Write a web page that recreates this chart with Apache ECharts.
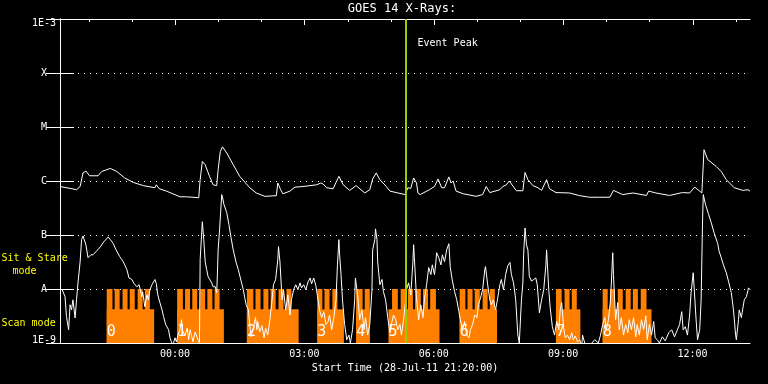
<!DOCTYPE html>
<html><head><meta charset="utf-8">
<script src="https://cdn.jsdelivr.net/npm/echarts@6/dist/echarts.min.js"></script>
<style>html,body{margin:0;padding:0;background:#000}#c{width:768px;height:384px}</style>
</head><body><div id="c"></div>
<script>
// ---- data (time in minutes after start 28-Jul-11 21:20:00) ----
const START_MIN = 21 * 60 + 20;
const X_MAX = 960;
const yTickLabels = ['1E-9', 'A', 'B', 'C', 'M', 'X', '1E-3'];
const xLabelTimes = [160, 340, 520, 700, 880];
const hourTicks = [40, 100, 160, 220, 280, 340, 400, 460, 520, 580, 640, 700, 760, 820, 880, 940];
const majorTicks = [160, 340, 520, 700, 880];
const eventPeak = 481;

// GOES 14 long channel (1-8 A), W/m^2
const longFlux = [[0,7.9e-7],[14,7.3e-7],[23,6.9e-7],[28,7.9e-7],[32,1.41e-6],[36,1.53e-6],[41,1.25e-6],[53,1.25e-6],[58,1.5e-6],[70,1.71e-6],[79,1.5e-6],[90,1.14e-6],[102,9.4e-7],[116,8.2e-7],[132,7.5e-7],[134,8.5e-7],[138,7.2e-7],[148,6.5e-7],[167,5.1e-7],[176,5.1e-7],[193,4.9e-7],[195,1.06e-6],[198,2.3e-6],[202,2.0e-6],[208,1.22e-6],[213,8.5e-7],[218,8.2e-7],[220,1.62e-6],[223,3.5e-6],[226,4.3e-6],[232,3.3e-6],[241,2.0e-6],[250,1.22e-6],[264,7.5e-7],[273,6.0e-7],[285,5.2e-7],[301,5.35e-7],[303,9.2e-7],[307,6.9e-7],[310,5.8e-7],[320,6.5e-7],[327,7.7e-7],[338,7.9e-7],[357,8.5e-7],[363,9.2e-7],[366,8.8e-7],[371,7.5e-7],[380,7.2e-7],[388,1.22e-6],[394,8.5e-7],[403,6.7e-7],[412,8.2e-7],[424,6.0e-7],[431,6.9e-7],[435,1.09e-6],[440,1.41e-6],[445,1.06e-6],[454,7.9e-7],[459,6.5e-7],[480,5.6e-7],[484,7.5e-7],[488,7.3e-7],[492,1.14e-6],[496,9.2e-7],[498,6.0e-7],[501,5.6e-7],[514,6.9e-7],[521,7.9e-7],[526,1.09e-6],[531,7.5e-7],[535,7.5e-7],[541,1.19e-6],[544,9.2e-7],[547,1.0e-6],[551,6.5e-7],[561,5.8e-7],[579,5.2e-7],[588,5.6e-7],[593,7.9e-7],[598,6.1e-7],[612,6.9e-7],[616,7.9e-7],[621,8.5e-7],[625,1.0e-6],[635,6.6e-7],[644,6.6e-7],[647,1.44e-6],[651,1.06e-6],[658,8.2e-7],[665,7.5e-7],[670,6.7e-7],[677,1.06e-6],[681,7.2e-7],[690,6.1e-7],[709,6.0e-7],[723,5.35e-7],[737,5.0e-7],[751,5.0e-7],[765,5.0e-7],[770,6.7e-7],[783,5.6e-7],[797,6.0e-7],[816,5.4e-7],[819,6.5e-7],[829,6.0e-7],[848,5.4e-7],[866,6.1e-7],[876,6.0e-7],[883,7.7e-7],[890,6.5e-7],[893,6.0e-7],[896,3.8e-6],[901,2.5e-6],[913,1.86e-6],[920,1.5e-6],[927,1.06e-6],[938,7.5e-7],[950,6.7e-7],[957,6.9e-7],[960,6.5e-7]];

// GOES 14 short channel (0.5-4 A), W/m^2
const shortFlux = [[0,1.0e-8],[3,9.7e-9],[7,7.2e-9],[9,3.1e-9],[12,1.76e-9],[14,5.1e-9],[16,4.1e-9],[18,6.3e-9],[21,2.9e-9],[23,6.3e-9],[25,1.3e-8],[28,3.2e-8],[30,8.2e-8],[32,9.6e-8],[34,1.0e-7],[36,6.6e-8],[39,3.8e-8],[41,3.5e-8],[43,4.3e-8],[46,4.3e-8],[50,4.9e-8],[56,6.0e-8],[61,7.5e-8],[67,9.2e-8],[70,8.2e-8],[74,7.0e-8],[78,5.3e-8],[83,4.0e-8],[88,3.2e-8],[93,2.3e-8],[96,1.6e-8],[100,1.5e-8],[103,1.26e-8],[107,1.1e-8],[110,1.2e-8],[114,7.2e-9],[115,8.9e-9],[118,4.7e-9],[121,7.8e-9],[123,6.3e-9],[125,9.7e-9],[128,1.2e-8],[132,1.5e-8],[134,1.26e-8],[136,7.8e-9],[139,5.6e-9],[142,4.1e-9],[144,3.1e-9],[147,2.2e-9],[151,1.76e-9],[153,1.25e-9],[155,1.05e-9],[157,9e-10],[160,1.25e-9],[162,1.05e-9],[164,1.4e-9],[167,1.76e-9],[169,2.7e-9],[171,1.6e-9],[174,1.4e-9],[177,1.9e-9],[179,1.15e-9],[181,1.76e-9],[183,1.37e-9],[185,1.05e-9],[188,1.6e-9],[190,1.55e-9],[192,1.15e-9],[194,1.0e-9],[195,3.5e-8],[198,1.76e-7],[200,8.2e-8],[202,3.2e-8],[204,2.3e-8],[206,1.7e-8],[208,1.7e-8],[211,1.3e-8],[213,1.1e-8],[216,1.1e-8],[218,8.5e-9],[219,1.9e-8],[220,5.3e-8],[222,1.25e-7],[225,5.6e-7],[226,5.1e-7],[228,3.7e-7],[232,2.6e-7],[235,1.56e-7],[238,8.9e-8],[241,5.3e-8],[245,3.1e-8],[248,2.3e-8],[252,1.4e-8],[255,9.7e-9],[257,6.9e-9],[259,5.1e-9],[262,4.1e-9],[264,2.2e-9],[266,1.3e-9],
[267,1.3e-9],[270,2.2e-9],[272,2.95e-9],[274,1.76e-9],[275,2.5e-9],[278,1.6e-9],[281,2.1e-9],[284,1.25e-9],[286,1.9e-9],[289,1.4e-9],[292,2.7e-9],[295,6.3e-9],[297,1.2e-8],[300,1.5e-8],[303,3.5e-8],[304,6.1e-8],[306,3.2e-8],[309,6.3e-9],[311,9.7e-9],[314,4.1e-9],[317,7.8e-9],[320,3.3e-9],[322,6.3e-9],[325,9.7e-9],[328,1.2e-8],[331,9.7e-9],[334,1.3e-8],[336,1.05e-8],[339,1.2e-8],[342,9.7e-9],[345,1.35e-8],[348,1.6e-8],[350,1.25e-8],[353,1.6e-8],[356,1.15e-8],[359,6.3e-9],[361,4.1e-9],[364,2.95e-9],[367,3.8e-9],[370,2.2e-9],[373,2.5e-9],[375,3.3e-9],[378,1.76e-9],[381,2.95e-9],[384,6.3e-9],[386,2.8e-8],[388,8.2e-8],[389,4.3e-8],[391,1.85e-8],[393,6.3e-9],[396,2.2e-9],[399,1.15e-9],[402,1.4e-9],[404,1.0e-9],[407,1.76e-9],[410,6.3e-9],[411,1.6e-8],[414,7.8e-9],[417,2.7e-9],[420,4.1e-9],[423,1.76e-9],[425,2.95e-9],[428,1.4e-9],[431,2.2e-9],[434,9.7e-9],[435,5.3e-8],[438,8.2e-8],[439,1.3e-7],[441,8.2e-8],[442,3.2e-8],[445,1.2e-8],[448,1.5e-8],[450,8.9e-9],[453,6.3e-9],[456,2.95e-9],[459,1.55e-9],[461,2.2e-9],[464,3.3e-9],[467,2.7e-9],[470,1.76e-9],[473,2.2e-9],[475,1.4e-9],[478,2.7e-9],[481,6.3e-9],[482,9.7e-9],[485,1.3e-8],[488,7.8e-9],[491,3.2e-8],[492,6.6e-8],[493,3.8e-8],[496,6.8e-9],[499,2.7e-9],[502,5.1e-9],[505,2.95e-9],[507,6.3e-9],[510,1.2e-8],[513,2.5e-8],[516,1.85e-8],[518,2.8e-8],[521,1.85e-8],[523,3.2e-8],[524,4.7e-8],[527,3.8e-8],[530,2.8e-8],[532,4.3e-8],[535,3.2e-8],[538,5.3e-8],[541,6.9e-8],[543,2.5e-8],[546,1.4e-8],[549,8.9e-9],[552,6.3e-9],[555,3.8e-9],[557,2.7e-9],[560,1.76e-9],[563,2.5e-9],[566,1.4e-9],[569,1.25e-9],[571,1.76e-9],[574,2.2e-9],[577,3.3e-9],[580,2.95e-9],[582,5.1e-9],[585,6.8e-9],[588,9.7e-9],[591,2.3e-8],[592,2.6e-8],[595,1.2e-8],[598,6.3e-9],[600,5.1e-9],[603,6.3e-9],[606,4.1e-9],[609,6.8e-9],[612,1.2e-8],[614,1.5e-8],[617,9.7e-9],[620,1.85e-8],[623,2.7e-8],[626,3.1e-8],[628,1.85e-8],[631,1.3e-8],[634,6.3e-9],[637,1.4e-9],[639,1.0e-9],[642,6.3e-9],[644,1.3e-8],[645,4.3e-8],[647,1.35e-7],[649,6.6e-8],[651,5.3e-8],[653,1.7e-8],[656,1.4e-8],[659,1.5e-8],[662,1.6e-8],[664,1.2e-8],[667,3.6e-9],[670,6.3e-9],[673,9.7e-9],[676,2.8e-8],[677,5.3e-8],[680,9.7e-9],[682,4.5e-9],[685,2.0e-9],[688,1.4e-9],[691,2.5e-9],[694,1.76e-9],[696,4.1e-9],[698,5.6e-9],[701,1.76e-9],[703,1.25e-9],[706,1.4e-9],[709,1.15e-9],[712,1.55e-9],[714,1.15e-9],[717,1.35e-9],[720,1.05e-9],[723,1.15e-9],[726,9e-10],[727,1.4e-9],[730,1.0e-9],[737,9e-10],[744,1.15e-9],[746,1.25e-9],[749,1.0e-9],[752,1.4e-9],[755,2.2e-9],[758,2.95e-9],[760,1.76e-9],[763,2.7e-9],[766,6.3e-9],[769,4.7e-8],[770,1.85e-8],[773,2.7e-9],[776,5.6e-9],[778,1.76e-9],[781,2.95e-9],[784,1.4e-9],[787,2.2e-9],[790,1.55e-9],[792,2.7e-9],[795,1.76e-9],[798,2.95e-9],[801,1.3e-9],[803,2.2e-9],[806,1.4e-9],[809,2.7e-9],[812,1.76e-9],[815,3.2e-9],[817,1.15e-9],[820,2.2e-9],[823,1.4e-9],[826,2.5e-9],[828,1.25e-9],[831,1.15e-9],[834,1.0e-9],[838,1.3e-9],[842,1.1e-9],[847,1.55e-9],[851,1.76e-9],[855,1.3e-9],[859,1.76e-9],[862,2.2e-9],[865,3.8e-9],[867,1.76e-9],[870,2.0e-9],[873,1.4e-9],[876,3.3e-9],[878,8.5e-9],[881,2.0e-8],[883,1.85e-8],[885,2.7e-9],[887,1.15e-9],[890,1.76e-9],[892,6.3e-9],[894,1.9e-7],[895,5.6e-7],[898,3.7e-7],[902,2.5e-7],[906,1.7e-7],[910,1.1e-7],[915,7.0e-8],[917,5.0e-8],[920,3.8e-8],[923,2.8e-8],[927,2.0e-8],[930,1.4e-8],[934,8.5e-9],[937,4.1e-9],[940,1.4e-9],[941,1.15e-9],[944,2.7e-9],[945,4.1e-9],[948,2.95e-9],[949,3.6e-9],[952,6.3e-9],[955,7.2e-9],[958,1.05e-8],[960,9.7e-9]];

// Observation modes (start, end in minutes)
const SCAN_LEVEL = 4.2e-9;
const STARE_LEVEL = 1.0e-8;
const Y_MIN = 1e-9, Y_MAX = 1e-3;
const scanBlocks = [[65,131],[163,228],[260,332],[358,395],[412,431],[457,528],[556,608],[690,724],[755,823]];
const blockLabels = ['0','1','2','3','4','5','6','7','8'];
const stareBars = [
  [65,73],[76,83],[87,94],[97,104],[108,115],[118,125],
  [163,171],[174,181],[184,191],[195,202],[205,212],[215,222],
  [260,269],[272,279],[283,290],[293,300],[304,311],[315,322],
  [358,365],[368,375],[379,386],
  [412,421],[424,431],
  [462,470],[474,481],[484,491],[494,502],[505,512],[515,523],
  [556,564],[567,574],[577,584],[588,595],[598,605],
  [690,698],[702,709],[712,719],
  [755,762],[765,772],[776,783],[787,794],[797,804],[808,816]
];

// ---- styling ----
const FONT = '"DejaVu Sans Mono", monospace';
const ORANGE = '#ff8000';
const EVENT_COLOR = '#9acd00';
const YELLOW = '#ffff00';

function fmtTime(v) {
  const m = ((START_MIN + Math.round(v)) % 1440 + 1440) % 1440;
  const h = Math.floor(m / 60), mm = m % 60;
  return String(h).padStart(2, '0') + ':' + String(mm).padStart(2, '0');
}
function yLabel(v) {
  const i = Math.round(Math.log10(v)) + 9;
  const t = yTickLabels[i];
  if (i === 6) return '{t|' + t + '}';
  if (i === 0) return '{b|' + t + '}';
  return t;
}
function rectRender(params, api) {
  const p0 = api.coord([api.value(0), api.value(2)]);
  const p1 = api.coord([api.value(1), Y_MIN]);
  return { type: 'rect', shape: { x: p0[0], y: p0[1], width: p1[0] - p0[0], height: p1[1] - p0[1] },
    style: { fill: ORANGE } };
}
function topTickRender(params, api) {
  const t = api.value(0);
  const p = api.coord([t, Y_MAX]);
  const x = Math.round(p[0]) + 0.5;
  const len = majorTicks.indexOf(t) >= 0 ? 6 : 3;
  return { type: 'line', shape: { x1: x, y1: p[1], x2: x, y2: p[1] + len },
    style: { stroke: '#fff', lineWidth: 1 } };
}

const chart = echarts.init(document.getElementById('c'), null, { renderer: 'canvas' });
const axisLineWhite = { show: true, lineStyle: { color: '#fff', width: 1 } };
chart.setOption({
  backgroundColor: '#000',
  animation: false,
  grid: { left: 60, right: 18, top: 19, bottom: 41, containLabel: false },
  xAxis: [
    { type: 'value', min: 0, max: X_MAX, position: 'bottom', axisLine: axisLineWhite,
      axisTick: { show: false }, splitLine: { show: false },
      axisLabel: { customValues: xLabelTimes, formatter: fmtTime, color: '#fff', fontFamily: FONT, fontSize: 10, margin: 6 },
      name: 'Start Time (28-Jul-11 21:20:00)', nameLocation: 'middle', nameGap: 18,
      nameTextStyle: { color: '#fff', fontFamily: FONT, fontSize: 10 } },
    { type: 'value', min: 0, max: X_MAX, position: 'top', axisLine: axisLineWhite,
      axisTick: { show: false }, axisLabel: { show: false }, splitLine: { show: false } }
  ],
  yAxis: [
    { type: 'log', logBase: 10, min: Y_MIN, max: Y_MAX, position: 'left', axisLine: axisLineWhite,
      axisTick: { show: true, inside: true, length: 14, lineStyle: { color: '#fff' } },
      axisLabel: { formatter: yLabel, color: '#fff', fontFamily: FONT, fontSize: 10, margin: 16, align: 'center',
        rich: { t: { padding: [8, 0, 0, 0], color: '#fff', fontFamily: FONT, fontSize: 10 },
                b: { padding: [0, 0, 6, 0], color: '#fff', fontFamily: FONT, fontSize: 10 } } },
      splitLine: { show: true, lineStyle: { color: '#fff', width: 1, type: [1, 5] } } },
    { type: 'log', logBase: 10, min: Y_MIN, max: Y_MAX, position: 'right', axisLine: axisLineWhite,
      axisTick: { show: true, inside: true, length: 14, lineStyle: { color: '#fff' } },
      axisLabel: { show: false }, splitLine: { show: false } }
  ],
  graphic: [
    { type: 'text', x: 402, y: 9, style: { text: 'GOES 14 X-Rays:', fill: '#fff', font: '12px ' + FONT, align: 'center', verticalAlign: 'middle' } },
    { type: 'text', x: 417.5, y: 43, z: 100, style: { text: 'Event Peak', fill: '#fff', font: '10px ' + FONT, align: 'left', verticalAlign: 'middle' } },
    { type: 'text', x: 1.5, y: 258.5, style: { text: 'Sit & Stare', fill: YELLOW, font: '10px ' + FONT, align: 'left', verticalAlign: 'middle' } },
    { type: 'text', x: 12.5, y: 271.5, style: { text: 'mode', fill: YELLOW, font: '10px ' + FONT, align: 'left', verticalAlign: 'middle' } },
    { type: 'text', x: 1.5, y: 323.5, style: { text: 'Scan mode', fill: YELLOW, font: '10px ' + FONT, align: 'left', verticalAlign: 'middle' } }
  ],
  series: [
    { type: 'custom', name: 'Scan mode', xAxisIndex: 0, yAxisIndex: 0, z: 1, silent: true,
      encode: { x: [0, 1], y: 2 }, renderItem: rectRender,
      data: scanBlocks.map(b => [b[0], b[1], SCAN_LEVEL]) },
    { type: 'custom', name: 'Sit & Stare mode', xAxisIndex: 0, yAxisIndex: 0, z: 1, silent: true,
      encode: { x: [0, 1], y: 2 }, renderItem: rectRender,
      data: stareBars.map(b => [b[0], b[1], STARE_LEVEL]) },
    { type: 'custom', name: 'labels', xAxisIndex: 0, yAxisIndex: 0, z: 2, silent: true,
      encode: { x: 0, y: 1 },
      renderItem: function (params, api) {
        const p = api.coord([api.value(0), Y_MIN]);
        return { type: 'text', x: p[0], y: p[1] - 11,
          style: { text: blockLabels[params.dataIndex], fill: '#fff', font: '15px ' + FONT, align: 'left', verticalAlign: 'middle' } };
      },
      data: scanBlocks.map(b => [b[0], Y_MIN]) },
    { type: 'custom', name: 'top ticks', xAxisIndex: 0, yAxisIndex: 0, z: 5, silent: true, clip: false,
      encode: { x: 0, y: 1 }, renderItem: topTickRender,
      data: hourTicks.map(t => [t, Y_MAX]) },
    { type: 'line', name: 'GOES 0.5-4 A', xAxisIndex: 0, yAxisIndex: 0, z: 3, data: shortFlux,
      showSymbol: false, symbol: 'none', lineStyle: { color: '#fff', width: 1 }, clip: true, silent: true },
    { type: 'line', name: 'GOES 1-8 A', xAxisIndex: 0, yAxisIndex: 0, z: 4, data: longFlux,
      showSymbol: false, symbol: 'none', lineStyle: { color: '#fff', width: 1 }, clip: true, silent: true,
      markLine: { symbol: 'none', silent: true, label: { show: false },
        lineStyle: { color: EVENT_COLOR, width: 2, type: 'solid' },
        data: [{ xAxis: eventPeak }] } }
  ]
});
</script>
</body></html>
